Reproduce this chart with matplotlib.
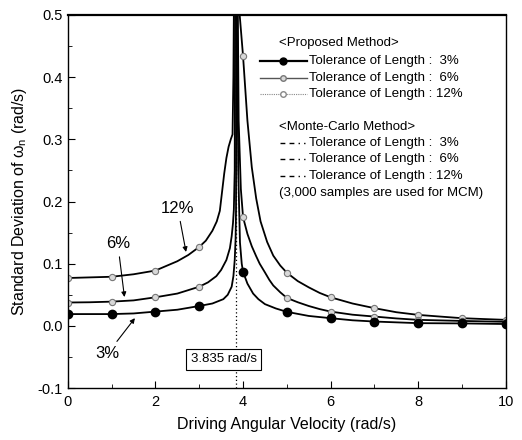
import matplotlib
matplotlib.use("Agg")
import matplotlib.pyplot as plt
from matplotlib.lines import Line2D

plt.rcParams['font.family'] = ['Liberation Sans', 'DejaVu Sans']

# proposed method curves
x3 = [0, 0.5, 1, 1.5, 2, 2.5, 3, 3.3, 3.55, 3.65, 3.74, 3.78, 3.81, 3.83, 3.84, 3.85,
      3.87, 3.89, 3.93, 3.97, 4.0, 4.1, 4.23, 4.35, 4.5, 4.75, 5, 5.5, 6, 6.5, 7, 8, 9, 10]
y3 = [0.019, 0.019, 0.019, 0.020, 0.023, 0.026, 0.032, 0.036, 0.043, 0.050, 0.063, 0.080, 0.106,
      0.14, 0.187, 0.9, 0.45, 0.25, 0.134, 0.100, 0.087, 0.068, 0.052, 0.043, 0.035, 0.028,
      0.0226, 0.016, 0.0124, 0.009, 0.007, 0.0044, 0.004, 0.003]
x6 = [0, 0.5, 1, 1.5, 2, 2.5, 3, 3.2, 3.39, 3.5, 3.62, 3.7, 3.74, 3.77, 3.79, 3.81, 3.83,
      3.87, 3.9, 3.95, 4.0, 4.1, 4.2, 4.3, 4.38, 4.5, 4.6, 4.69, 4.85, 5, 5.25, 5.5, 5.75, 6,
      6.5, 7, 7.5, 8, 9, 10]
y6 = [0.0376, 0.038, 0.039, 0.041, 0.046, 0.052, 0.063, 0.070, 0.080, 0.090, 0.106, 0.125,
      0.144, 0.165, 0.187, 0.25, 0.9, 0.6, 0.33, 0.22, 0.175, 0.148, 0.128, 0.112, 0.100, 0.086,
      0.074, 0.065, 0.054, 0.045, 0.038, 0.032, 0.027, 0.023, 0.018, 0.015, 0.012, 0.0097,
      0.008, 0.0065]
x12 = [0, 0.5, 1, 1.5, 2, 2.5, 2.75, 3, 3.15, 3.3, 3.4, 3.47, 3.52, 3.57, 3.62, 3.67, 3.72,
       3.76, 3.78, 3.80, 3.84, 3.9, 4.0, 4.1, 4.2, 4.3, 4.4, 4.55, 4.69, 4.85, 5, 5.25, 5.5,
       5.75, 6, 6.5, 7, 7.5, 8, 8.5, 9, 9.5, 10]
y12 = [0.077, 0.078, 0.079, 0.083, 0.089, 0.104, 0.114, 0.127, 0.137, 0.153, 0.168, 0.185,
       0.215, 0.245, 0.270, 0.288, 0.300, 0.308, 0.40, 0.6, 1.0, 0.52, 0.434, 0.33, 0.255,
       0.205, 0.168, 0.135, 0.113, 0.097, 0.0855, 0.072, 0.062, 0.053, 0.046, 0.036, 0.0285,
       0.022, 0.0177, 0.015, 0.0124, 0.011, 0.0097]

# marker points at integer velocities
xm = [0, 1, 2, 3, 4, 5, 6, 7, 8, 9, 10]
m3 = [0.019, 0.019, 0.023, 0.032, 0.087, 0.0226, 0.0124, 0.007, 0.0044, 0.004, 0.003]
m6 = [0.0376, 0.039, 0.046, 0.063, 0.175, 0.045, 0.023, 0.015, 0.0097, 0.008, 0.0065]
m12 = [0.077, 0.079, 0.089, 0.127, 0.434, 0.0855, 0.046, 0.0285, 0.0177, 0.0124, 0.0097]

w_res = 3.835
tol_labels = ['Tolerance of Length :  3%', 'Tolerance of Length :  6%', 'Tolerance of Length : 12%']

fig = plt.figure(figsize=(5.22, 4.4), dpi=100)
ax = fig.add_axes([0.130, 0.118, 0.839, 0.848])

ax.plot(x12, y12, color='k', lw=1.3)
ax.plot(x6, y6, color='k', lw=1.3)
ax.plot(x3, y3, color='k', lw=1.3)
ax.plot(xm, m12, ls='none', marker='o', ms=4.5, mfc='#d8d8d8', mec='#777777', mew=0.8)
ax.plot(xm, m6, ls='none', marker='o', ms=4.5, mfc='#d8d8d8', mec='#777777', mew=0.8)
ax.plot(xm, m3, ls='none', marker='o', ms=6, mfc='k', mec='k')

ax.axvline(w_res, color='k', ls=(0, (1, 2)), lw=0.9)

ax.set_xlim(0, 10)
ax.set_ylim(-0.1, 0.5)
ax.set_xticks([0, 2, 4, 6, 8, 10])
ax.set_xticks([1, 3, 5, 7, 9], minor=True)
ax.set_yticks([-0.1, 0.0, 0.1, 0.2, 0.3, 0.4, 0.5])
ax.set_yticklabels(['-0.1', '0.0', '0.1', '0.2', '0.3', '0.4', '0.5'])
ax.set_yticks([-0.05, 0.05, 0.15, 0.25, 0.35, 0.45], minor=True)
ax.tick_params(which='both', direction='in', labelsize=10.5, top=False, right=False)
ax.tick_params(which='major', length=5)
ax.tick_params(which='minor', length=3)
ax.tick_params(axis='x', pad=5)
for s in ax.spines.values():
    s.set_linewidth(1.0)
ax.spines['top'].set_linewidth(1.6)

ax.set_xlabel('Driving Angular Velocity (rad/s)', fontsize=11.5, labelpad=6)
ax.set_ylabel(r'Standard Deviation of $\mathregular{\omega_n}$ (rad/s)', fontsize=11.5, labelpad=6)

# curve labels
arr = dict(arrowstyle='-|>', color='k', lw=0.8, mutation_scale=7)
ax.annotate('12%', xy=(2.71, 0.1145), xytext=(2.51, 0.189), fontsize=12, ha='center', va='center',
            arrowprops=arr)
ax.annotate('6%', xy=(1.30, 0.042), xytext=(1.14, 0.132), fontsize=12, ha='center', va='center',
            arrowprops=arr)
ax.annotate('3%', xy=(1.57, 0.016), xytext=(0.90, -0.045), fontsize=12, ha='center', va='center',
            arrowprops=arr)

ax.text(3.56, -0.054, '3.835 rad/s', fontsize=9.5, ha='center', va='center',
        bbox=dict(boxstyle='square,pad=0.35', fc='white', ec='k', lw=0.8))

# hand-made legend
tr = ax.transAxes
fs = 9.5
ax.text(0.482, 0.925, '<Proposed Method>', transform=tr, fontsize=fs, va='center')
prop_rows = [0.877, 0.831, 0.788]
prop_styles = [dict(color='k', lw=1.6, marker='o', ms=5, mfc='k'),
               dict(color='#555555', lw=1.0, marker='o', ms=4, mfc='#d8d8d8', mec='#777777'),
               dict(color='#888888', lw=0.8, ls=(0, (1, 1)), marker='o', ms=4, mfc='white', mec='#888888')]
for yy, st, lab in zip(prop_rows, prop_styles, tol_labels):
    ax.add_line(Line2D([0.438, 0.546], [yy, yy], transform=tr, markevery=[], **st))
    ax.add_line(Line2D([0.492], [yy], transform=tr, ls='none', marker=st['marker'], ms=st['ms'],
                       mfc=st['mfc'], mec=st.get('mec', 'k')))
    ax.text(0.55, yy, lab, transform=tr, fontsize=fs, va='center')

ax.text(0.482, 0.700, '<Monte-Carlo Method>', transform=tr, fontsize=fs, va='center')
mcm_rows = [0.657, 0.614, 0.568]
for yy, lab in zip(mcm_rows, tol_labels):
    ax.add_line(Line2D([0.484, 0.541], [yy, yy], transform=tr, color='k', lw=1.0,
                       ls=(0, (3.5, 3, 3.5, 3, 1, 3))))
    ax.text(0.55, yy, lab, transform=tr, fontsize=fs, va='center')
ax.text(0.482, 0.523, '(3,000 samples are used for MCM)', transform=tr, fontsize=fs, va='center')

fig.savefig('out.png', dpi=100)
